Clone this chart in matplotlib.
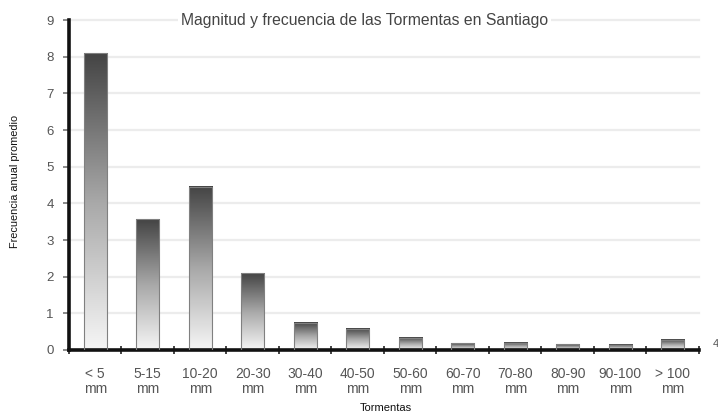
import numpy as np
import matplotlib.pyplot as plt
from matplotlib.colors import LinearSegmentedColormap

plt.rcParams["font.family"] = ["Liberation Sans", "DejaVu Sans"]

# Storm magnitude classes and mean yearly frequency
categories = ["< 5\nmm", "5-15\nmm", "10-20\nmm", "20-30\nmm", "30-40\nmm", "40-50\nmm",
              "50-60\nmm", "60-70\nmm", "70-80\nmm", "80-90\nmm", "90-100\nmm", "> 100\nmm"]
frequency = [8.1, 3.57, 4.45, 2.1, 0.74, 0.58, 0.34, 0.19, 0.2, 0.15, 0.14, 0.28]
y_ticks = list(range(10))

BAR_WIDTH = 0.44
grad_cmap = LinearSegmentedColormap.from_list("bar_grad", ["#f6f6f6", "#a8a8a8", "#444444"])
gradient = np.linspace(0, 1, 256).reshape(-1, 1)

fig = plt.figure(figsize=(7.18, 4.19), dpi=100)
ax = fig.add_axes([0.0961, 0.1647, 0.8774, 0.7873])

x = np.arange(len(categories))
for xi, val in zip(x, frequency):
    left = xi - BAR_WIDTH / 2
    ax.imshow(gradient, extent=(left, left + BAR_WIDTH, 0, val), origin="lower",
              cmap=grad_cmap, aspect="auto", zorder=2, interpolation="bilinear")
ax.bar(x, frequency, width=BAR_WIDTH, facecolor="none", edgecolor="#808080",
       linewidth=0.8, zorder=3)

ax.set_xlim(-0.5, len(categories) - 0.5)
ax.set_ylim(0, 9)

# light horizontal grid
for yv in y_ticks[1:]:
    ax.axhline(yv, color="#ececec", linewidth=1.6, zorder=1, clip_on=False)

for side in ("top", "right"):
    ax.spines[side].set_visible(False)
for side in ("left", "bottom"):
    ax.spines[side].set_linewidth(2.6)
    ax.spines[side].set_color("#111111")

ax.set_yticks(y_ticks)
ax.tick_params(axis="y", length=4, width=1.2, color="#777777", labelcolor="#555555",
               labelsize=9.5, pad=7)

# ticks between categories, labels centred under bars
ax.set_xticks(np.arange(-0.5, len(categories)), minor=False)
ax.set_xticklabels([])
ax.set_xticks(x, minor=True)
ax.set_xticklabels(categories, minor=True, fontsize=10, color="#555555", linespacing=1.1)
ax.tick_params(axis="x", which="major", length=6, width=1.2, color="#222222", direction="inout")
ax.tick_params(axis="x", which="minor", length=0, pad=12)

ax.text(0.469, 1.0, "Magnitud y frecuencia de las Tormentas en Santiago",
        transform=ax.transAxes, ha="center", va="center", fontsize=11.3, color="#444444",
        bbox=dict(facecolor="white", edgecolor="none", pad=2), zorder=5)

fig.text(0.021, 0.568, "Frecuencia anual promedio", rotation=90, ha="center",
         va="center", fontsize=7.8, color="#111111")
fig.text(0.537, 0.026, "Tormentas", ha="center", va="center", fontsize=8, color="#111111")
fig.text(0.993, 0.178, "4", ha="left", va="center", fontsize=8, color="#555555")

fig.savefig("out.png", dpi=100, facecolor="white")
